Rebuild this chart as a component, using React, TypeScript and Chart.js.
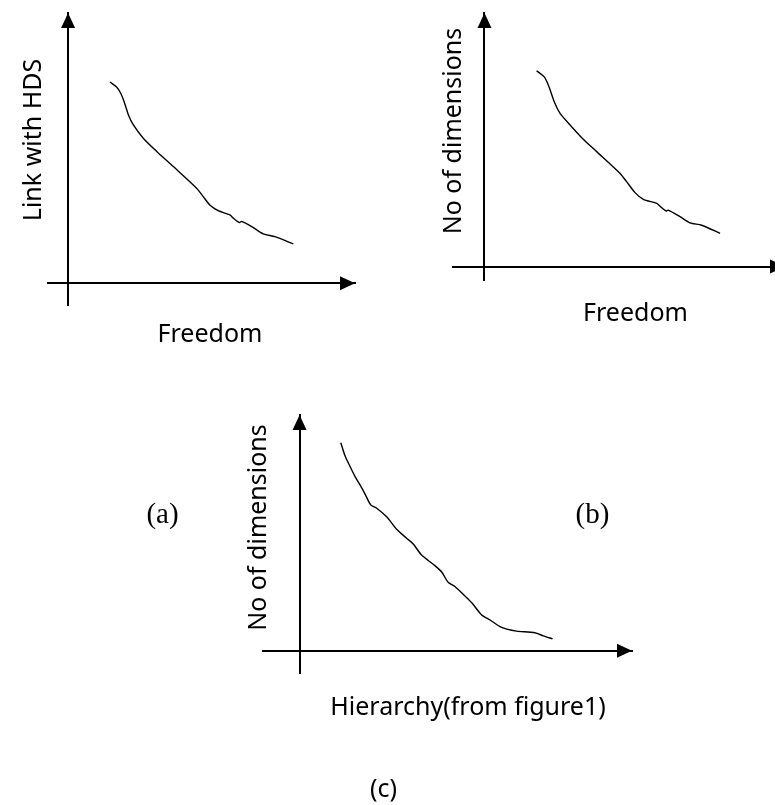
import React, { useEffect, useRef } from "react";
import { Chart, registerables } from "chart.js";

Chart.register(...registerables);

// ---- Data (arbitrary units) ----
const aX = [14.6, 16.9, 18.3, 19.5, 21.0, 22.7, 26.2, 30.9, 36.7, 44.8, 47.1, 49.4, 52.3, 56.4, 57.6, 59.7, 60.5, 64.0, 68.0, 72.1, 78.5];
const aY = [74.5, 72.6, 70.4, 67.3, 62.4, 58.7, 53.7, 48.8, 43.2, 35.2, 32.1, 29.0, 26.9, 25.3, 24.1, 22.5, 22.9, 21.0, 18.3, 17.3, 14.6];

const bX = [18.2, 20.8, 22.3, 24.6, 26.4, 29.9, 34.5, 39.2, 47.3, 49.7, 52.6, 55.5, 60.2, 61.3, 63.4, 64.2, 68.3, 71.8, 75.9, 82.3];
const bY = [72.6, 70.4, 67.3, 60.5, 56.8, 52.5, 47.2, 42.6, 34.6, 31.4, 27.4, 24.9, 23.4, 22.4, 20.6, 20.9, 18.5, 16.2, 15.3, 12.3];

const cX = [12.4, 13.7, 15.2, 16.7, 18.2, 19.7, 21.4, 23.2, 26.2, 29.2, 32.2, 34.2, 36.7, 40.2, 42.7, 44.7, 46.8, 49.2, 51.8, 54.8, 57.3, 60.3, 62.3, 65.3, 70.8, 73.3, 76.1];
const cY = [75.0, 70.2, 66.4, 62.8, 59.8, 56.5, 52.6, 51.4, 48.3, 43.8, 40.6, 38.5, 34.5, 31.2, 28.5, 24.7, 23.1, 20.4, 17.3, 12.9, 11.1, 8.7, 7.8, 7.1, 6.5, 5.4, 4.3];

// ---- Text ----
const labelsA = { yTitle: "Link with HDS", xTitle: "Freedom" };
const labelsB = { yTitle: "No of dimensions", xTitle: "Freedom" };
const labelsC = { yTitle: "No of dimensions", xTitle: "Hierarchy(from figure1)" };
const captions = ["(a)", "(b)", "(c)"];

const W = 775;
const H = 805;
const SANS = "'Noto Sans', 'Open Sans', sans-serif";
const SERIF = "'Liberation Serif', 'DejaVu Serif', serif";

type TextItem = { text: string; x: number; y: number; font: string; rotate?: boolean };

const arrowPlugin = {
  id: "axisArrows",
  afterDraw(chart: any, _args: any, opts: any) {
    const xs = chart.scales.x;
    const ys = chart.scales.y;
    const ctx = chart.ctx;
    const x0 = xs.getPixelForValue(0);
    const y0 = ys.getPixelForValue(0);
    const len = 15;
    const half = 7;
    ctx.save();
    ctx.fillStyle = "#000";
    // x-axis arrow
    const tipX = xs.right + (opts.overhang || 0);
    ctx.beginPath();
    ctx.moveTo(tipX, y0);
    ctx.lineTo(tipX - len, y0 - half);
    ctx.lineTo(tipX - len, y0 + half);
    ctx.closePath();
    ctx.fill();
    // y-axis arrow
    const tipY = ys.top;
    ctx.beginPath();
    ctx.moveTo(x0, tipY);
    ctx.lineTo(x0 - half, tipY + len);
    ctx.lineTo(x0 + half, tipY + len);
    ctx.closePath();
    ctx.fill();
    ctx.restore();
  },
};

const textPlugin = {
  id: "sketchText",
  afterDraw(chart: any, _args: any, opts: any) {
    const ctx = chart.ctx;
    const items: TextItem[] = opts.items || [];
    ctx.save();
    ctx.fillStyle = "#000";
    ctx.textBaseline = "alphabetic";
    ctx.textAlign = "center";
    for (const it of items) {
      ctx.save();
      ctx.font = it.font;
      ctx.translate(it.x, it.y);
      if (it.rotate) ctx.rotate(-Math.PI / 2);
      ctx.fillText(it.text, 0, 0);
      ctx.restore();
    }
    ctx.restore();
  },
};

type Panel = {
  xs: number[];
  ys: number[];
  xMin: number;
  xMax: number;
  yMin: number;
  yMax: number;
  pad: { left: number; right: number; top: number; bottom: number };
  overhang: number;
  texts: TextItem[];
};

function makeConfig(p: Panel): any {
  const points = p.xs.map((x, i) => ({ x, y: p.ys[i] }));
  const axisCommon = {
    type: "linear",
    display: true,
    grid: { display: false, drawTicks: false },
    ticks: { display: false },
    border: { display: true, color: "#000", width: 2 },
  };
  return {
    type: "line",
    data: {
      datasets: [
        {
          data: points,
          borderColor: "#000",
          borderWidth: 1.4,
          pointRadius: 0,
          fill: false,
          tension: 0.25,
        },
      ],
    },
    options: {
      animation: false,
      responsive: false,
      maintainAspectRatio: false,
      events: [],
      layout: { padding: p.pad },
      plugins: {
        legend: { display: false },
        tooltip: { enabled: false },
        title: { display: false },
        axisArrows: { overhang: p.overhang },
        sketchText: { items: p.texts },
      },
      scales: {
        x: { ...axisCommon, min: p.xMin, max: p.xMax, position: { y: 0 } },
        y: { ...axisCommon, min: p.yMin, max: p.yMax, position: { x: 0 } },
      },
    },
    plugins: [arrowPlugin, textPlugin],
  };
}

const f25 = `25px ${SANS}`;

const panels: Panel[] = [
  {
    xs: aX,
    ys: aY,
    xMin: -7,
    xMax: 100,
    yMin: -8,
    yMax: 100,
    pad: { left: 48, right: W - 355, top: 13, bottom: H - 305 },
    overhang: 0,
    texts: [
      { text: labelsA.yTitle, x: 41, y: 140, font: f25, rotate: true },
      { text: labelsA.xTitle, x: 210, y: 342, font: f25 },
    ],
  },
  {
    xs: bX,
    ys: bY,
    xMin: -11,
    xMax: 101.5,
    yMin: -5,
    yMax: 94,
    pad: { left: 453, right: 0, top: 13, bottom: H - 280 },
    overhang: 10,
    texts: [
      { text: labelsB.yTitle, x: 461, y: 131, font: f25, rotate: true },
      { text: labelsB.xTitle, x: 635.5, y: 321, font: f25 },
    ],
  },
  {
    xs: cX,
    ys: cY,
    xMin: -11,
    xMax: 100,
    yMin: -8,
    yMax: 85,
    pad: { left: 263, right: W - 632, top: 415, bottom: H - 673 },
    overhang: 0,
    texts: [
      { text: labelsC.yTitle, x: 266, y: 527.5, font: f25, rotate: true },
      { text: labelsC.xTitle, x: 468, y: 715, font: f25 },
      { text: captions[0], x: 162.5, y: 523, font: `29px ${SERIF}` },
      { text: captions[1], x: 592.5, y: 523, font: `29px ${SERIF}` },
      { text: captions[2], x: 383.5, y: 797, font: f25 },
    ],
  },
];

function PanelCanvas({ panel }: { panel: Panel }) {
  const ref = useRef<HTMLCanvasElement | null>(null);
  useEffect(() => {
    if (!ref.current) return;
    const chart = new Chart(ref.current, makeConfig(panel));
    return () => chart.destroy();
  }, [panel]);
  return (
    <canvas
      ref={ref}
      width={W}
      height={H}
      style={{ position: "absolute", left: 0, top: 0, width: W, height: H }}
    />
  );
}

export default function App() {
  return (
    <div
      style={{
        position: "absolute",
        left: 0,
        top: 0,
        width: W,
        height: H,
        overflow: "hidden",
        background: "#fff",
      }}
    >
      {panels.map((p, i) => (
        <PanelCanvas key={i} panel={p} />
      ))}
    </div>
  );
}
